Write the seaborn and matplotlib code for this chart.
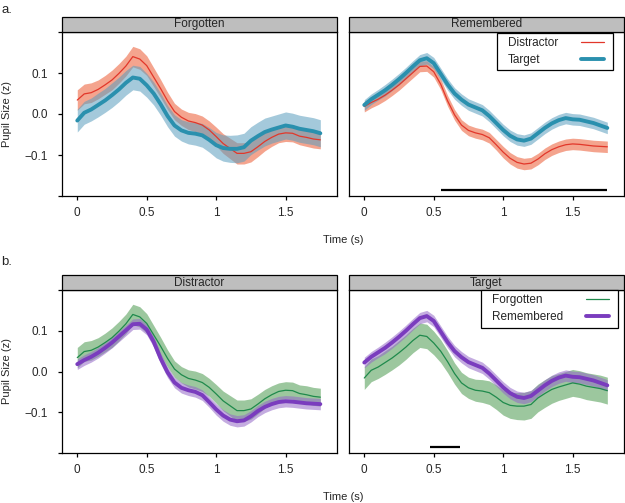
import numpy as np
import pandas as pd
import matplotlib
matplotlib.use("Agg")
import matplotlib.pyplot as plt
import seaborn as sns
from matplotlib.patches import Rectangle
from matplotlib.lines import Line2D
from matplotlib.offsetbox import HPacker, DrawingArea

sns.set_style("white")
plt.rcParams['font.family'] = ['Liberation Sans', 'DejaVu Sans']

# time axis (s)
time = [0.00, 0.05, 0.10, 0.15, 0.20, 0.25, 0.30, 0.35, 0.40, 0.45, 0.50, 0.55,
        0.60, 0.65, 0.70, 0.75, 0.80, 0.85, 0.90, 0.95, 1.00, 1.05, 1.10, 1.15,
        1.20, 1.25, 1.30, 1.35, 1.40, 1.45, 1.50, 1.55, 1.60, 1.65, 1.70, 1.75]

# mean pupil size (z) and ribbon half-width
dis_forg = [0.034, 0.049, 0.052, 0.060, 0.071, 0.083, 0.099, 0.117, 0.140, 0.134, 0.118, 0.090,
            0.062, 0.032, 0.006, -0.008, -0.017, -0.021, -0.027, -0.039, -0.055, -0.072, -0.084, -0.096,
            -0.096, -0.092, -0.080, -0.067, -0.057, -0.049, -0.046, -0.047, -0.054, -0.057, -0.061, -0.063]
dis_forg_se = [0.025, 0.024, 0.024, 0.023, 0.023, 0.024, 0.024, 0.024, 0.025, 0.025, 0.024, 0.023,
               0.022, 0.021, 0.020, 0.020, 0.021, 0.022, 0.022, 0.022, 0.023, 0.024, 0.025, 0.026,
               0.026, 0.025, 0.024, 0.023, 0.022, 0.021, 0.021, 0.021, 0.021, 0.022, 0.022, 0.022]

tar_forg = [-0.016, 0.003, 0.011, 0.022, 0.033, 0.046, 0.060, 0.076, 0.089, 0.086, 0.070, 0.050,
            0.024, -0.005, -0.028, -0.040, -0.046, -0.048, -0.052, -0.063, -0.076, -0.083, -0.085, -0.085,
            -0.081, -0.065, -0.054, -0.044, -0.038, -0.033, -0.028, -0.031, -0.036, -0.039, -0.042, -0.047]
tar_forg_se = [0.028, 0.028, 0.028, 0.029, 0.029, 0.030, 0.030, 0.030, 0.030, 0.030, 0.029, 0.028,
               0.027, 0.026, 0.026, 0.026, 0.027, 0.028, 0.029, 0.030, 0.031, 0.032, 0.033, 0.034,
               0.034, 0.034, 0.034, 0.034, 0.033, 0.033, 0.033, 0.033, 0.033, 0.033, 0.033, 0.033]

dis_rem = [0.018, 0.028, 0.036, 0.046, 0.058, 0.071, 0.086, 0.101, 0.116, 0.117, 0.103, 0.073,
           0.032, -0.002, -0.027, -0.040, -0.046, -0.050, -0.058, -0.075, -0.093, -0.108, -0.118, -0.122,
           -0.120, -0.110, -0.097, -0.087, -0.080, -0.075, -0.073, -0.074, -0.076, -0.078, -0.079, -0.080]
dis_rem_se = [0.013, 0.013, 0.013, 0.013, 0.013, 0.013, 0.013, 0.013, 0.013, 0.013, 0.013, 0.013,
              0.013, 0.013, 0.013, 0.013, 0.013, 0.013, 0.013, 0.013, 0.014, 0.014, 0.014, 0.014,
              0.014, 0.014, 0.014, 0.014, 0.014, 0.014, 0.014, 0.014, 0.014, 0.014, 0.014, 0.014]

tar_rem = [0.022, 0.036, 0.047, 0.058, 0.071, 0.085, 0.100, 0.116, 0.131, 0.136, 0.124, 0.098,
           0.072, 0.050, 0.035, 0.023, 0.016, 0.009, -0.005, -0.022, -0.039, -0.053, -0.062, -0.065,
           -0.060, -0.047, -0.034, -0.023, -0.015, -0.010, -0.013, -0.014, -0.018, -0.022, -0.028, -0.034]
tar_rem_se = [0.013, 0.013, 0.013, 0.014, 0.014, 0.014, 0.014, 0.014, 0.014, 0.014, 0.014, 0.014,
              0.014, 0.014, 0.014, 0.014, 0.014, 0.014, 0.014, 0.014, 0.014, 0.014, 0.014, 0.014,
              0.014, 0.014, 0.014, 0.014, 0.014, 0.014, 0.014, 0.014, 0.014, 0.014, 0.014, 0.014]

# significance bars (start, end) for the right-hand panels
sig_a = [0.55, 1.75]
sig_b = [0.47, 0.69]

rows = []
for typ, mem, m, s in [("Distractor", "Forgotten", dis_forg, dis_forg_se),
                       ("Target", "Forgotten", tar_forg, tar_forg_se),
                       ("Distractor", "Remembered", dis_rem, dis_rem_se),
                       ("Target", "Remembered", tar_rem, tar_rem_se)]:
    rows.append(pd.DataFrame({"time": time, "pupil": m, "se": s, "type": typ, "memory": mem}))
df = pd.concat(rows, ignore_index=True)
df["lo"] = df["pupil"] - df["se"]
df["hi"] = df["pupil"] + df["se"]

style = {
    "Distractor": dict(line="#E2372A", fill="#EC5A32", lw=0.9),
    "Target": dict(line="#2A90AE", fill="#5A9EBE", lw=2.8),
    "Forgotten": dict(line="#1F8A4C", fill="#4C9A4E", lw=0.9),
    "Remembered": dict(line="#7A3CBE", fill="#9468C8", lw=2.8),
}

fig = plt.figure(figsize=(6.25, 5.03), dpi=100)
W, H = 625, 503


def make_axes(left_px, top_px, w_px, h_px, sharey=None):
    return fig.add_axes([left_px / W, 1 - (top_px + h_px) / H, w_px / W, h_px / H], sharey=sharey)


def strip(ax, text):
    h = 15 / 164
    ax.add_patch(Rectangle((0, 1), 1, h, transform=ax.transAxes, facecolor="#BEBEBE",
                           edgecolor="black", lw=0.9, clip_on=False, zorder=5))
    ax.text(0.5, 1 + h / 2, text, transform=ax.transAxes, ha="center", va="center",
            fontsize=8.5, zorder=6)


def fix_legend(leg):
    # labels left-aligned, handles right-aligned, extra side padding (ggplot-like)
    fig.canvas.draw()
    r = fig.canvas.get_renderer()
    col = leg._legend_handle_box.get_children()[0]
    items = col.get_children()
    w = max(it.get_bbox(r).width for it in items)
    for it in items:
        text, handle = it.get_children()
        inner = HPacker(pad=0, sep=0, children=[text, handle], mode="expand", align="baseline")
        inner.width = w
        left, right = DrawingArea(4.5, 1), DrawingArea(3.5, 1)
        it._children = [left, inner, right]
        it.sep = 0
        it.mode = "fixed"
        for c in (left, inner, right):
            c.set_figure(fig)


def panel(ax, facet_col, facet_val, hue_col, order, sig=None, first=True):
    sub = df[df[facet_col] == facet_val]
    for lvl in order:
        d = sub[sub[hue_col] == lvl]
        st = style[lvl]
        ax.fill_between(d["time"], d["lo"], d["hi"], color=st["fill"], alpha=0.55, lw=0)
        sns.lineplot(data=d, x="time", y="pupil", color=st["line"], lw=st["lw"], ax=ax,
                     legend=False, errorbar=None)
    if sig is not None:
        ax.hlines(-0.185, sig[0], sig[1], color="black", lw=1.6)
    ax.set_xlim(-0.11, 1.87)
    ax.set_ylim(-0.2, 0.2)
    ax.set_xticks([0, 0.5, 1, 1.5], ["0", "0.5", "1", "1.5"])
    ax.set_xlabel("")
    ax.set_ylabel("")
    for sp in ax.spines.values():
        sp.set_color("black")
        sp.set_linewidth(0.9)
    ax.tick_params(axis="x", direction="out", length=3, width=0.9, labelsize=8.5, pad=5,
                   bottom=True, color="black")
    if first:
        ax.set_yticks([-0.2, -0.1, 0.0, 0.1, 0.2], ["", "\u22120.1", "0.0", "0.1", ""])
        ax.tick_params(axis="y", direction="out", length=3, width=0.9, labelsize=8.5, pad=7,
                       left=True, color="black")
        ax.set_ylabel("Pupil Size (z)", fontsize=8)
        ax.yaxis.set_label_coords(-0.18, 0.5)
    else:
        ax.tick_params(axis="y", left=False, labelleft=False)
    strip(ax, facet_val)


def add_legend(ax, order, anchor):
    handles = [Line2D([], [], color=style[k]["line"], lw=style[k]["lw"]) for k in order]
    leg = ax.legend(handles, order, loc="upper right", bbox_to_anchor=anchor, fontsize=8.5,
                    markerfirst=False, frameon=True, fancybox=False, framealpha=1,
                    edgecolor="black", borderpad=0.35, labelspacing=0.45, handlelength=1.95,
                    handletextpad=1.95, borderaxespad=0)
    leg.get_frame().set_linewidth(0.9)
    leg.set_zorder(10)
    return leg


# row a: by memory, coloured by item type
ax1 = make_axes(62, 32, 275, 164)
ax2 = make_axes(349, 32, 275, 164, sharey=ax1)
panel(ax1, "memory", "Forgotten", "type", ["Distractor", "Target"])
panel(ax2, "memory", "Remembered", "type", ["Distractor", "Target"], sig=sig_a, first=False)
leg_a = add_legend(ax2, ["Distractor", "Target"], (0.96, 0.995))

# row b: by item type, coloured by memory
ax3 = make_axes(62, 290, 275, 163)
ax4 = make_axes(349, 290, 275, 163, sharey=ax3)
panel(ax3, "type", "Distractor", "memory", ["Forgotten", "Remembered"])
panel(ax4, "type", "Target", "memory", ["Forgotten", "Remembered"], sig=sig_b, first=False)
leg_b = add_legend(ax4, ["Forgotten", "Remembered"], (0.978, 1.0))

fig.text(343 / W, 1 - 240 / H, "Time (s)", ha="center", va="center", fontsize=8)
fig.text(343 / W, 1 - 497 / H, "Time (s)", ha="center", va="center", fontsize=8)
fig.text(1 / W, 1 - 10 / H, "a.", ha="left", va="center", fontsize=9.5)
fig.text(1 / W, 1 - 262 / H, "b.", ha="left", va="center", fontsize=9.5)

fix_legend(leg_a)
fix_legend(leg_b)

fig.savefig("out.png", dpi=100)
